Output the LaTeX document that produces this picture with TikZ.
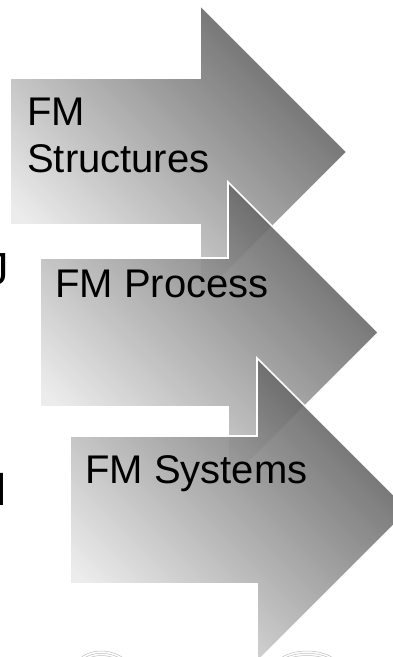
\documentclass[tikz,border=0pt]{standalone}
\usepackage{fontspec}
\setmainfont{Liberation Sans}
\newfontfamily\notofont{Noto Sans}
\definecolor{lightg}{RGB}{234,234,234}
\definecolor{darkg}{RGB}{88,88,88}
\definecolor{hatch}{RGB}{190,190,190}
\begin{document}
\begin{tikzpicture}[x=1pt,y=-1pt,
  arrowshape/.style={draw=white, line width=1.6pt, line join=miter,
    shading=axis, bottom color=lightg, top color=darkg, shading angle=-45,
    fill opacity=0.9},
  label/.style={anchor=base west, inner sep=0pt, font=\fontsize{40}{47}\selectfont,
    align=left, text=black},
  cut/.style={anchor=base west, inner sep=0pt, font=\fontsize{45}{54}\selectfont, text=black}]
\useasboundingbox (0,0) rectangle (393,657);
\clip (0,0) rectangle (393,657);
% partial letters cut at the left edge
\node[cut] (c1) at (-14,284) {J};
\node[cut, font=\notofont\fontsize{45}{54}\selectfont] (c2) at (-13,505) {1};
% faint decorations at the bottom
\foreach \r in {0,3,6}{
  \draw[hatch, line width=0.5pt] (78+\r,660) .. controls (90+\r,648+\r) and (112-\r,648+\r) .. (126-\r,660);
  \draw[hatch, line width=0.5pt] (278+\r,660) .. controls (292+\r,648+\r) and (322-\r,648+\r) .. (336-\r,660);
}
% arrow 1
\path[arrowshape] (10,78) -- (200,78) -- (200,5) -- (347,152) -- (200,299) -- (200,225) -- (10,225) -- cycle;
\node[label] (t1) at (27,172) {FM\\Structures};
% arrow 2
\path[arrowshape] (40,258) -- (228,258) -- (228,182) -- (378.5,332.5) -- (228,483) -- (228,407) -- (40,407) -- cycle;
\node[label] (t2) at (55,297) {FM Process};
% arrow 3
\path[arrowshape] (70,436) -- (257,436) -- (257,358) -- (409,510) -- (257,662) -- (257,584) -- (70,584) -- cycle;
\node[label] (t3) at (85,483) {FM Systems};
\end{tikzpicture}
\end{document}
